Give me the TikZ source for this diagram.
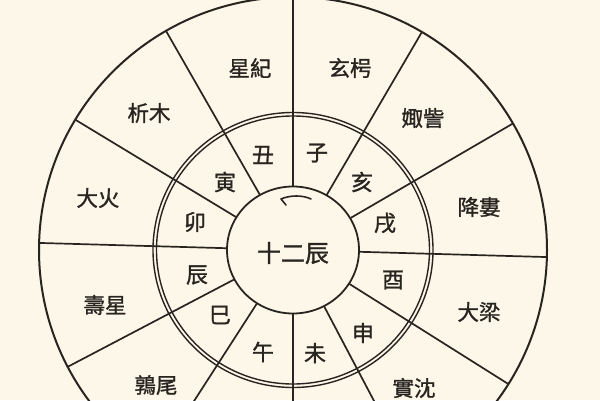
\documentclass[tikz,border=0pt]{standalone}
\usepackage{fontspec}
\usetikzlibrary{calc}
\newfontfamily\cjk[FakeBold=1.2]{Noto Sans CJK TC}
\definecolor{paper}{RGB}{253,247,233}
\definecolor{ink}{RGB}{40,37,33}
\begin{document}
\begin{tikzpicture}[x=1pt,y=1pt,
  ringline/.style={draw=ink,line width=1.8pt},
  spoke/.style={draw=ink,line width=1.7pt},
  outerlbl/.style={text=ink,font=\cjk\fontsize{21.5}{21.5}\selectfont,inner sep=0pt},
  innerlbl/.style={text=ink,font=\cjk\fontsize{22}{22}\selectfont,inner sep=0pt},
  centerlbl/.style={text=ink,font=\cjk\fontsize{24}{24}\selectfont,inner sep=0pt}]
\useasboundingbox (0,0) rectangle (600,400);
\fill[paper] (0,0) rectangle (600,400);
\clip (0,0) rectangle (600,400);
\coordinate (c) at (293,150);
% circles
\draw[ringline,line width=2pt] (c) ellipse [x radius=254, y radius=253];
\draw[ringline,line width=1.4pt] (c) ellipse [x radius=140, y radius=137.5];
\draw[ringline,line width=1.4pt] (c) ellipse [x radius=136.5, y radius=134];
\draw[ringline] (c) ellipse [x radius=66, y radius=63.5];
% spokes
\foreach \a in {90,120,149,178.4,207.5,237,270,298,328,358.4,30,59.5}{
  \draw[spoke] ($(c)+(\a:66 and 63.5)$) -- ($(c)+(\a:254 and 253)$);
}
% outer labels
\node[outerlbl] (xingji) at (250,332) {星紀};
\node[outerlbl] (xuanxiao) at (350,332) {玄枵};
\node[outerlbl] (ximu) at (149,287) {析木};
\node[outerlbl] (juzi) at (423,282) {娵訾};
\node[outerlbl] (dahuo) at (98,202) {大火};
\node[outerlbl] (jianglou) at (479,193) {降婁};
\node[outerlbl] (shouxing) at (105,95) {壽星};
\node[outerlbl] (daliang) at (479,88) {大梁};
\node[outerlbl] (chunwei) at (156,15) {鶉尾};
\node[outerlbl] (shishen) at (414,12) {實沈};
% inner labels
\node[innerlbl] (zi) at (317,247) {子};
\node[innerlbl] (chou) at (263,245) {丑};
\node[innerlbl] (yin) at (225,218) {寅};
\node[innerlbl] (mao) at (195,178) {卯};
\node[innerlbl] (chen) at (197,125) {辰};
\node[innerlbl] (si) at (220,85) {巳};
\node[innerlbl] (wu) at (263,48) {午};
\node[innerlbl] (wei) at (315,47) {未};
\node[innerlbl] (shen) at (363,67) {申};
\node[innerlbl] (you) at (393,120) {酉};
\node[innerlbl] (xu) at (385,177) {戌};
\node[innerlbl] (hai) at (362,218) {亥};
\node[centerlbl] (shierchen) at (293,147) {十二辰};
% direction arrow
\coordinate (arrR) at (311,201);
\coordinate (arrL) at (281,201);
\coordinate (arrB) at (286,195);
\draw[ink,line width=1.6pt,line cap=round,line join=round]
  (arrR) .. controls (303,205) and (290,205) .. (arrL) -- (arrB);
\end{tikzpicture}
\end{document}
